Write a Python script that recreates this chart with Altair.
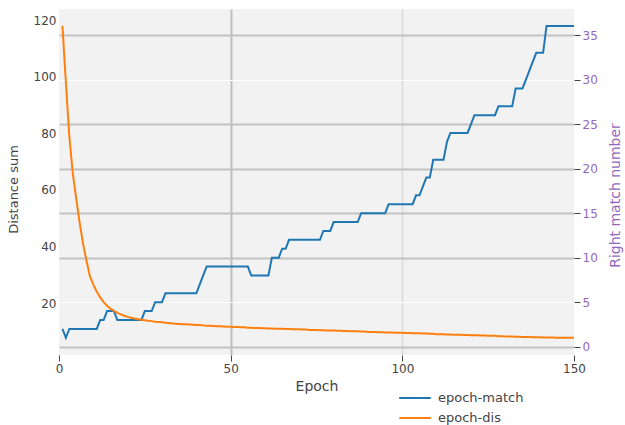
import altair as alt
import pandas as pd

# Training curves per epoch: number of right matches (right axis) and summed distance (left axis)
epochs = list(range(1, 151))

match_counts = [
    2, 1, 2, 2, 2, 2, 2, 2, 2, 2,
    2, 3, 3, 4, 4, 4, 3, 3, 3, 3,
    3, 3, 3, 3, 4, 4, 4, 5, 5, 5,
    6, 6, 6, 6, 6, 6, 6, 6, 6, 6,
    7, 8, 9, 9, 9, 9, 9, 9, 9, 9,
    9, 9, 9, 9, 9, 8, 8, 8, 8, 8,
    8, 10, 10, 10, 11, 11, 12, 12, 12, 12,
    12, 12, 12, 12, 12, 12, 13, 13, 13, 14,
    14, 14, 14, 14, 14, 14, 14, 15, 15, 15,
    15, 15, 15, 15, 15, 16, 16, 16, 16, 16,
    16, 16, 16, 17, 17, 18, 19, 19, 21, 21,
    21, 21, 23, 24, 24, 24, 24, 24, 24, 25,
    26, 26, 26, 26, 26, 26, 26, 27, 27, 27,
    27, 27, 29, 29, 29, 30, 31, 32, 33, 33,
    33, 36, 36, 36, 36, 36, 36, 36, 36, 36,
]

distance_sums = [
    118.0, 98.0, 79.0, 66.0, 57.0, 48.5, 41.0, 35.0, 29.5, 26.5,
    24.0, 22.0, 20.3, 19.0, 18.0, 17.2, 16.5, 16.0, 15.5, 15.1,
    14.8, 14.5, 14.3, 14.1, 13.9, 13.7, 13.6, 13.4, 13.3, 13.2,
    13.0, 12.9, 12.8, 12.7, 12.6, 12.5, 12.5, 12.4, 12.3, 12.2,
    12.2, 12.1, 12.0, 12.0, 11.9, 11.8, 11.8, 11.7, 11.6, 11.6,
    11.5, 11.5, 11.4, 11.4, 11.3, 11.3, 11.2, 11.2, 11.1, 11.1,
    11.0, 11.0, 10.9, 10.9, 10.9, 10.8, 10.8, 10.7, 10.7, 10.7,
    10.6, 10.6, 10.5, 10.5, 10.5, 10.4, 10.4, 10.3, 10.3, 10.3,
    10.2, 10.2, 10.1, 10.1, 10.0, 10.0, 10.0, 9.9, 9.9, 9.8,
    9.8, 9.8, 9.7, 9.7, 9.6, 9.6, 9.6, 9.5, 9.5, 9.5,
    9.4, 9.4, 9.3, 9.3, 9.3, 9.2, 9.2, 9.1, 9.1, 9.0,
    9.0, 9.0, 8.9, 8.9, 8.8, 8.8, 8.8, 8.7, 8.7, 8.6,
    8.6, 8.6, 8.5, 8.5, 8.4, 8.4, 8.4, 8.3, 8.3, 8.2,
    8.2, 8.2, 8.1, 8.1, 8.0, 8.0, 8.0, 7.9, 7.9, 7.9,
    7.8, 7.8, 7.8, 7.8, 7.7, 7.7, 7.7, 7.7, 7.7, 7.7,
]

series_names = ["epoch-match", "epoch-dis"]
series_colors = ["#1f77b4", "#ff7f0e"]

x_ticks = [0, 50, 100, 150]
left_ticks = [20, 40, 60, 80, 100, 120]
right_ticks = [0, 5, 10, 15, 20, 25, 30, 35]

df = pd.DataFrame({"epoch": epochs, "match": match_counts, "dis": distance_sums})

TEXT = "#444444"
PURPLE = "#9467bd"

x_enc = alt.X(
    "epoch:Q",
    scale=alt.Scale(domain=[0, 150], nice=False, zero=False),
    axis=alt.Axis(
        values=x_ticks,
        domain=False,
        ticks=True,
        tickSize=6,
        tickColor=TEXT,
        labelColor=TEXT,
        labelFontSize=12,
        labelPadding=2,
        labelFlush=False,
        title="Epoch",
        titleFontSize=14,
        titleFontWeight="normal",
        titleColor=TEXT,
        titlePadding=5,
        grid=True,
        gridColor={"expr": "datum.value == 50 ? '#bdbdbd' : (datum.value == 100 ? '#d9d9d9' : 'transparent')"},
        gridWidth={"expr": "datum.value == 50 ? 2 : 1.5"},
    ),
)

color_enc = alt.Color(
    "series:N",
    scale=alt.Scale(domain=series_names, range=series_colors),
    legend=alt.Legend(
        orient="none",
        legendX=339,
        legendY=379,
        title=None,
        symbolType="stroke",
        symbolSize=1000,
        symbolStrokeWidth=2,
        labelFontSize=13,
        labelColor=TEXT,
        labelOffset=6,
        clipHeight=20,
        rowPadding=0,
        padding=0,
    ),
)

match_line = (
    alt.Chart(df)
    .transform_calculate(series="'epoch-match'")
    .mark_line(strokeWidth=2)
    .encode(
        x=x_enc,
        y=alt.Y(
            "match:Q",
            scale=alt.Scale(domain=[-0.93, 37.92], nice=False, zero=False),
            axis=alt.Axis(
                orient="right",
                values=right_ticks,
                domain=False,
                ticks=True,
                tickSize=6,
                tickColor=TEXT,
                labelColor=PURPLE,
                labelFontSize=12,
                labelPadding=2,
                title="Right match number",
                titleColor=PURPLE,
                titleFontSize=14,
                titleFontWeight="normal",
                titleAngle=270,
                titleBaseline="top",
                titlePadding=11,
                titleY=186,
                grid=True,
                gridColor={"expr": "(datum.value == 5 || datum.value == 30) ? '#ffffff' : '#c2c2c2'"},
                gridWidth={"expr": "(datum.value == 5 || datum.value == 30) ? 1 : 2"},
            ),
        ),
        color=color_enc,
    )
)

dis_line = (
    alt.Chart(df)
    .transform_calculate(series="'epoch-dis'")
    .mark_line(strokeWidth=2)
    .encode(
        x=x_enc,
        y=alt.Y(
            "dis:Q",
            scale=alt.Scale(domain=[1.63, 123.9], nice=False, zero=False),
            axis=alt.Axis(
                orient="left",
                values=left_ticks,
                domain=False,
                ticks=False,
                labelColor=TEXT,
                labelFontSize=12,
                labelPadding=3,
                title="Distance sum",
                titleColor=TEXT,
                titleFontSize=13,
                titleFontWeight="normal",
                titlePadding=13,
                titleY=180,
                grid=False,
            ),
        ),
        color=color_enc,
    )
)

chart = (
    alt.layer(match_line, dis_line)
    .resolve_scale(y="independent")
    .properties(
        width=515,
        height=346,
        autosize=alt.AutoSizeParams(type="none"),
        padding={"left": 59, "top": 9, "right": 51, "bottom": 70},
        background="white",
    )
    .configure(font="DejaVu Sans")
    .configure_view(fill="#f2f2f2", strokeWidth=0)
)

chart.save("out.html", embed_options={"renderer": "svg", "actions": False})
